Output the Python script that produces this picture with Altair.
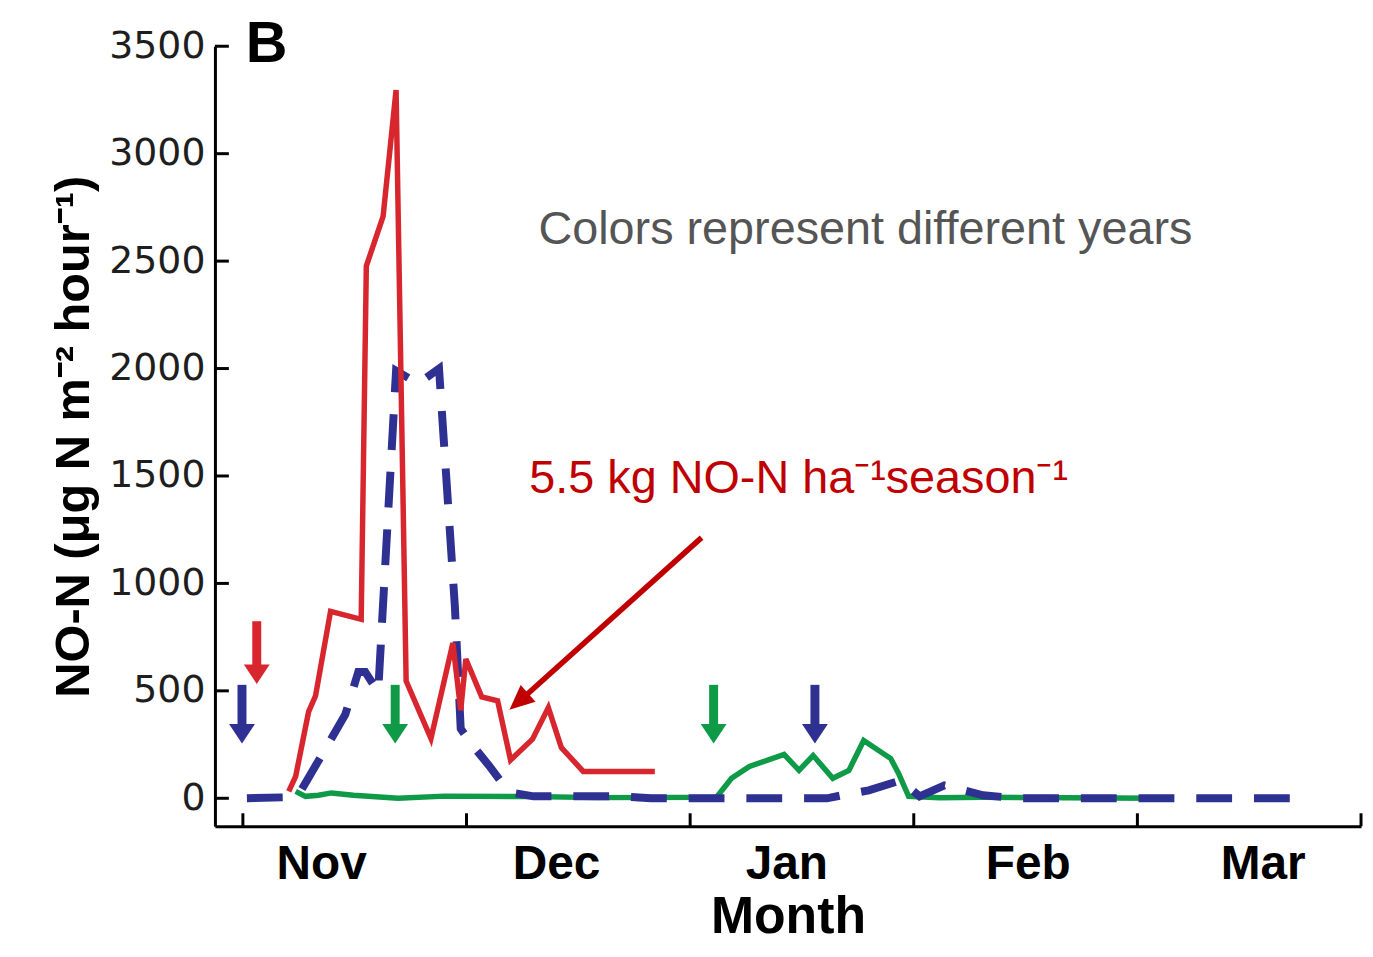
import json
import altair as alt
import pandas as pd

# ---------------- data ----------------
months = ["Nov", "Dec", "Jan", "Feb", "Mar"]
month_label_pos = [0.35, 1.40, 2.43, 3.51, 4.56]
month_ticks = [0, 1, 2, 3, 4, 5]
y_ticks = [0, 500, 1000, 1500, 2000, 2500, 3000, 3500]

# x in "months since 1 Nov", y in ug N m-2 hour-1
red_m = [0.205, 0.236, 0.294, 0.325, 0.392, 0.529, 0.552, 0.627, 0.685, 0.730, 0.841,
         0.939, 0.974, 0.997, 1.068, 1.139, 1.197, 1.295, 1.366, 1.424, 1.522, 1.842]
red_v = [32, 102, 403, 477, 870, 833, 2477, 2708, 3296, 546, 278,
         722, 410, 648, 472, 454, 178, 275, 422, 236, 125, 125]

blue_m = [0.018, 0.205, 0.258, 0.383, 0.458, 0.516, 0.547, 0.605, 0.685, 0.783, 0.877,
          0.948, 0.974, 1.020, 1.100, 1.160, 1.220, 1.300, 1.673, 1.824, 2.612, 2.679,
          2.799, 2.941, 3.026, 3.137, 3.190, 3.310, 3.462, 4.730]
blue_v = [0, 5, 32, 255, 390, 588, 588, 495, 1990, 1930, 2000,
          893, 324, 255, 153, 70, 23, 9, 10, 0, 0, 14,
          37, 83, 9, 60, 46, 14, 0, 0]

green_m = [0.236, 0.280, 0.338, 0.396, 0.494, 0.694, 0.903, 1.286, 1.584, 2.118, 2.185,
           2.265, 2.420, 2.487, 2.550, 2.638, 2.710, 2.776, 2.897, 2.932, 2.977, 3.115,
           3.310, 4.098]
green_v = [32, 9, 14, 25, 14, 0, 10, 8, 3, 5, 93,
           148, 204, 130, 199, 93, 130, 269, 185, 116, 9, 3,
           5, 0]

# fertilisation / event arrows
arrow_m = [0.062, -0.004, 0.681, 2.105, 2.558]
arrow_top = [824, 528, 528, 528, 528]
arrow_tip = [532, 255, 255, 255, 255]
arrow_series = ["red", "blue", "green", "green", "blue"]

# annotation arrow (start -> tip)
annot_m = [2.051]
annot_v = [1213]
annot_m2 = [1.192]
annot_v2 = [412]

RED = "#d7262e"
BLUE = "#2e3192"
GREEN = "#0f9a48"
DARKRED = "#c00000"
palette = {"red": RED, "blue": BLUE, "green": GREEN}

# ---------------- frames ----------------
red_df = pd.DataFrame({"m": red_m, "v": red_v})
blue_df = pd.DataFrame({"m": blue_m, "v": blue_v})
green_df = pd.DataFrame({"m": green_m, "v": green_v})
ytick_df = pd.DataFrame({"v": y_ticks})
xtick_df = pd.DataFrame({"m": month_ticks})
arrow_df = pd.DataFrame({"m": arrow_m, "v": arrow_top, "v2": arrow_tip,
                         "c": [palette[s] for s in arrow_series]})
annot_df = pd.DataFrame({"m": annot_m, "v": annot_v, "m2": annot_m2, "v2": annot_v2})
head_df = pd.DataFrame({"m": annot_m2, "v": annot_v2})

txt_b = pd.DataFrame({"m": [0.013], "v": [3426], "t": ["B"]})
txt_colors = pd.DataFrame({"m": [1.3215], "v": [2579], "t": ["Colors represent different years"]})
txt_kg = pd.DataFrame({"m": [1.281], "v": [1421], "t": ["5.5 kg NO-N ha\u207b\u00b9season\u207b\u00b9"]})

# ---------------- scales / axes ----------------
xscale = alt.Scale(domain=[-0.125, 5.0], nice=False, zero=False)
yscale = alt.Scale(domain=[-130, 3500], nice=False, zero=False)

label_expr = "%s[floor(datum.value)]" % json.dumps(months).replace('"', "'")

xaxis = alt.Axis(values=month_label_pos, labelExpr=label_expr, ticks=False, tickSize=0,
                 grid=False, domainColor="black", domainWidth=3,
                 labelFont="Liberation Sans", labelFontWeight="bold", labelFontSize=48,
                 labelColor="black", labelPadding=15, labelFlush=False, labelOverlap=False,
                 title="Month", titleFont="Liberation Sans", titleFontWeight="bold",
                 titleFontSize=52, titleColor="black", titlePadding=3)
yaxis = alt.Axis(values=y_ticks, format="d", ticks=False, tickSize=0, grid=False,
                 domainColor="black", domainWidth=3,
                 labelFont="DejaVu Sans", labelFontSize=38, labelColor="#1e1e1e",
                 labelPadding=10, labelFlush=False, labelOverlap=False,
                 title="NO-N (\u03bcg N m\u207b\u00b2 hour\u207b\u00b9)",
                 titleFont="Liberation Sans", titleFontWeight="bold", titleFontSize=49,
                 titleColor="black", titlePadding=10)

X = alt.X("m:Q", scale=xscale, axis=xaxis)
Y = alt.Y("v:Q", scale=yscale, axis=yaxis)

green_line = alt.Chart(green_df).mark_line(color=GREEN, strokeWidth=5.5).encode(x=X, y=Y)
blue_line = alt.Chart(blue_df).mark_line(color=BLUE, strokeWidth=8,
                                          strokeDash=[36, 22]).encode(x=X, y=Y)
red_line = alt.Chart(red_df).mark_line(color=RED, strokeWidth=5.5).encode(x=X, y=Y)

ytick_rules = alt.Chart(ytick_df).mark_rule(color="black", strokeWidth=3).encode(
    y=Y, x=alt.value(0), x2=alt.value(14))
xtick_rules = alt.Chart(xtick_df).mark_rule(color="black", strokeWidth=3).encode(
    x=X, y=alt.value(771), y2=alt.value(784))

arrow_shafts = alt.Chart(arrow_df).mark_rule(strokeWidth=9, y2Offset=-12).encode(
    x=X, y=Y, y2=alt.Y2("v2:Q"), color=alt.Color("c:N", scale=None))
arrow_heads = alt.Chart(arrow_df).mark_point(
    shape="M-1,-1.5L1,-1.5L0,0Z", size=676, filled=True, opacity=1, strokeWidth=0
).encode(x=X, y=alt.Y("v2:Q", scale=yscale, axis=yaxis), color=alt.Color("c:N", scale=None))

annot_line = alt.Chart(annot_df).mark_rule(color=DARKRED, strokeWidth=5.5,
                                            x2Offset=15, y2Offset=-13).encode(
    x=X, y=Y, x2=alt.X2("m2:Q"), y2=alt.Y2("v2:Q"))
annot_head = alt.Chart(head_df).mark_point(
    shape="M0,0L-0.9,2L0.9,2Z", size=625, angle=228.5, filled=True, opacity=1,
    strokeWidth=0, color=DARKRED).encode(x=X, y=Y)

t_b = alt.Chart(txt_b).mark_text(align="left", baseline="alphabetic", font="Liberation Sans",
                                 fontWeight="bold", fontSize=58, color="black").encode(
    x=X, y=Y, text="t:N")
t_colors = alt.Chart(txt_colors).mark_text(align="left", baseline="alphabetic",
                                           font="Liberation Sans", fontSize=47,
                                           color="#555555").encode(x=X, y=Y, text="t:N")
t_kg = alt.Chart(txt_kg).mark_text(align="left", baseline="alphabetic",
                                   font="Liberation Sans", fontSize=47,
                                   color=DARKRED).encode(x=X, y=Y, text="t:N")

chart = alt.layer(
    green_line, blue_line, red_line, ytick_rules, xtick_rules,
    arrow_shafts, arrow_heads, annot_line, annot_head, t_b, t_colors, t_kg
).properties(
    width=1152, height=784,
    padding={"left": 208, "top": 36, "right": 4, "bottom": 125},
    autosize=alt.AutoSizeParams(type="none"),
    background="white",
).configure_view(stroke=None)

chart.save("out.html", embed_options={"renderer": "svg", "actions": False})
